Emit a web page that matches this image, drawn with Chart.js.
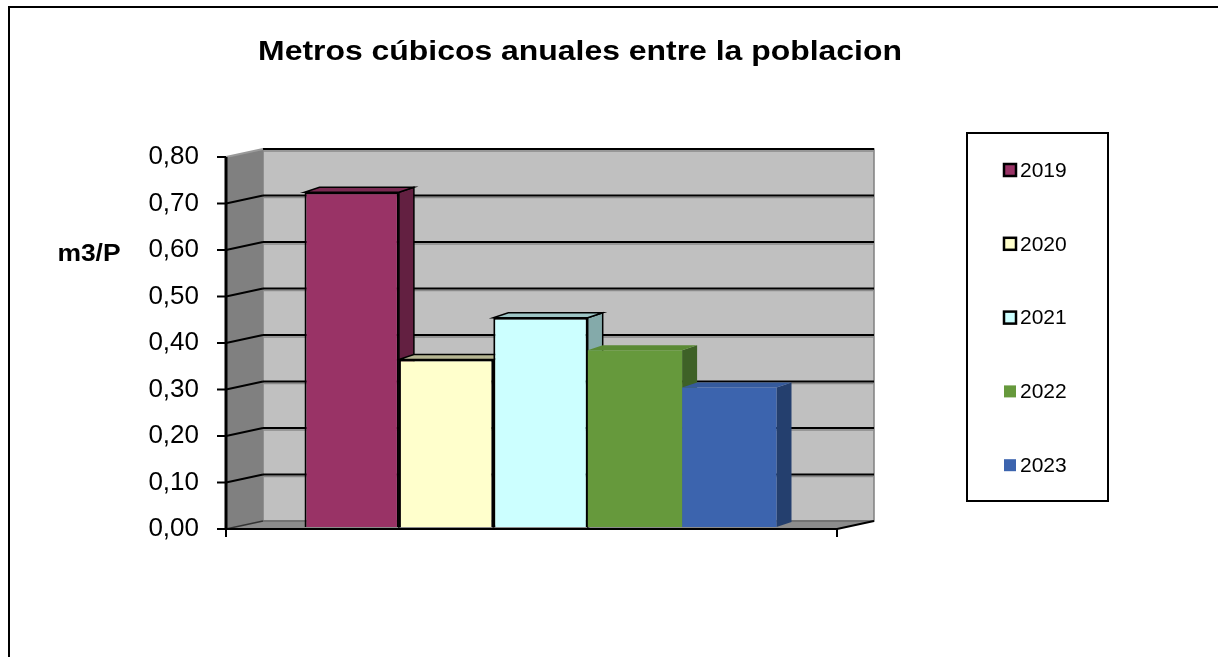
<!DOCTYPE html>
<html>
<head>
<meta charset="utf-8">
<script src="https://cdn.jsdelivr.net/npm/chart.js@4.4.0/dist/chart.umd.min.js"></script>
<style>
  body { margin: 0; background: #fff; }
  canvas { display: block; }
</style>
</head>
<body>
<canvas id="grafico" width="1218" height="657"></canvas>
<script>
// datos del grafico
var categoria = [''];
var anios = ['2019', '2020', '2021', '2022', '2023'];
var valores = [0.72, 0.36, 0.45, 0.38, 0.30];
var etiquetasY = ['0,00', '0,10', '0,20', '0,30', '0,40', '0,50', '0,60', '0,70', '0,80'];
var titulo = 'Metros cúbicos anuales entre la poblacion';
var tituloEje = 'm3/P';

// colores (frente, lado, techo) y borde
var colorFrente = ['#993366', '#FFFFCC', '#CCFFFF', '#66993C', '#3C64AE'];
var colorLado = ['#632041', '#A8A884', '#84AAAA', '#3E6127', '#243F6E'];
var colorTecho = ['#7A2A52', '#B5B592', '#9CC4C4', '#5A8A35', '#355A9C'];
var conBorde = [true, true, true, false, false];

var FUENTE = '"Liberation Sans", Arial, sans-serif';
var DX = 37, DY = -8;      // profundidad de las paredes
var BX = 15, BY = -5;      // profundidad de las barras
var OX = 9, OY = -2;       // posicion de las barras dentro del piso

var textoEstirado = function(ctx, txt, x, y, fuente, esc){
  ctx.save();
  ctx.font = fuente;
  ctx.fillStyle = '#000';
  ctx.textAlign = 'center';
  ctx.textBaseline = 'middle';
  ctx.translate(x, y);
  ctx.scale(esc, 1);
  ctx.fillText(txt, 0, 0);
  ctx.restore();
};

var poligono = function(ctx, pts, relleno, trazo, ancho){
  ctx.beginPath();
  ctx.moveTo(pts[0][0], pts[0][1]);
  for (var i = 1; i < pts.length; i++) ctx.lineTo(pts[i][0], pts[i][1]);
  ctx.closePath();
  if (relleno) { ctx.fillStyle = relleno; ctx.fill(); }
  if (trazo) { ctx.strokeStyle = trazo; ctx.lineWidth = ancho || 1; ctx.stroke(); }
};

var linea = function(ctx, x1, y1, x2, y2, color, ancho){
  ctx.beginPath();
  ctx.moveTo(x1, y1);
  ctx.lineTo(x2, y2);
  ctx.strokeStyle = color;
  ctx.lineWidth = ancho;
  ctx.stroke();
};

//--------------------------------------------------------------------------------------
// efecto 3D estilo excel: paredes, piso, grilla y caras de las barras
//--------------------------------------------------------------------------------------
var efecto3d = {
  id: 'efecto3d',
  beforeDraw: function(chart){
    var ctx = chart.ctx;
    var a = chart.chartArea;
    var ys = chart.scales.y;
    var L = a.left, R = a.right, T = a.top, B = a.bottom;

    ctx.save();
    ctx.fillStyle = '#fff';
    ctx.fillRect(0, 0, chart.width, chart.height);

    // marco
    ctx.fillStyle = '#000';
    ctx.fillRect(8, 6, chart.width - 8, 2);
    ctx.fillRect(8, 6, 2, chart.height - 6);

    // pared del fondo
    poligono(ctx, [[L + DX, T + DY], [R + DX, T + DY], [R + DX, B + DY], [L + DX, B + DY]], '#C0C0C0', '#808080', 1.5);
    // pared lateral
    poligono(ctx, [[L, T], [L + DX, T + DY], [L + DX, B + DY], [L, B]], '#808080');
    // piso
    poligono(ctx, [[L, B], [R, B], [R + DX, B + DY], [L + DX, B + DY]], '#8C8C8C');
    linea(ctx, L + DX, B + DY, R + DX, B + DY, '#6A6A6A', 1.5);
    linea(ctx, L, B, L + DX, B + DY, '#333', 1.5);
    linea(ctx, R, B, R + DX, B + DY, '#000', 2);

    // lineas de grilla
    ys.ticks.forEach(function(t){
      if (t.value <= 0) return;
      var y = ys.getPixelForValue(t.value);
      var ultima = t.value >= ys.max - 1e-9;
      linea(ctx, L + DX, y + DY + 2, R + DX, y + DY + 2, '#8a8a8a', 1.5);
      linea(ctx, L + DX, y + DY, R + DX, y + DY, '#000', 2.2);
      linea(ctx, L, y, L + DX, y + DY, ultima ? '#9a9a9a' : '#000', 2);
    });

    // eje vertical y marcas
    linea(ctx, L, T, L, B + 1, '#000', 3);
    ys.ticks.forEach(function(t){
      var y = ys.getPixelForValue(t.value);
      linea(ctx, L - 9, y, L, y, '#000', 2);
    });
    // eje horizontal
    linea(ctx, L, B, R, B, '#000', 2);
    linea(ctx, L, B, L, B + 8, '#000', 2);
    linea(ctx, R, B, R, B + 8, '#000', 2);
    ctx.restore();
  },
  beforeDatasetsDraw: function(chart){
    var ctx = chart.ctx;
    ctx.save();
    ctx.translate(OX, OY);
    chart.data.datasets.forEach(function(ds, i){
      var el = chart.getDatasetMeta(i).data[0];
      if (!el) return;
      var l = el.x - el.width / 2, r = el.x + el.width / 2;
      var t = el.y, b = el.base;
      var trazo = conBorde[i] ? '#000' : null;
      poligono(ctx, [[r, t], [r + BX, t + BY], [r + BX, b + BY], [r, b]], colorLado[i], trazo, 1.5);
      poligono(ctx, [[l, t], [r, t], [r + BX, t + BY], [l + BX, t + BY]], colorTecho[i], trazo, 1.5);
    });
  },
  afterDatasetsDraw: function(chart){
    chart.ctx.restore();
  },
  afterDraw: function(chart){
    var ctx = chart.ctx;
    textoEstirado(ctx, titulo, 580, 52, 'bold 28px ' + FUENTE, 1.14);
    textoEstirado(ctx, tituloEje, 89, 255, 'bold 23px ' + FUENTE, 1.15);

    // leyenda
    ctx.save();
    ctx.strokeStyle = '#000';
    ctx.lineWidth = 2;
    ctx.strokeRect(967, 133, 141, 368);
    ctx.font = '21px ' + FUENTE;
    ctx.textBaseline = 'middle';
    ctx.textAlign = 'left';
    chart.data.datasets.forEach(function(ds, i){
      var y = 170 + i * 73.8;
      ctx.fillStyle = colorFrente[i];
      ctx.fillRect(1004, y - 6, 12, 12);
      if (conBorde[i]) {
        ctx.lineWidth = 2.5;
        ctx.strokeRect(1004, y - 6, 12, 12);
      }
      ctx.fillStyle = '#000';
      ctx.fillText(ds.label, 1020, y + 1);
    });
    ctx.restore();
  }
};

var ctx = document.getElementById('grafico').getContext('2d');
var grafico = new Chart(ctx, {
  type: 'bar',
  data: {
    labels: categoria,
    datasets: anios.map(function(anio, i){
      return {
        label: anio,
        data: [valores[i]],
        backgroundColor: colorFrente[i],
        borderColor: '#000',
        borderWidth: conBorde[i] ? 2 : 0,
        categoryPercentage: 0.7725,
        barPercentage: 1
      };
    })
  },
  options: {
    responsive: false,
    animation: false,
    layout: { padding: { left: 0, top: 157, right: 381, bottom: 128 } },
    plugins: {
      legend: { display: false },
      title: { display: false },
      tooltip: { enabled: false }
    },
    scales: {
      x: { display: false },
      y: {
        min: 0,
        max: 0.8,
        afterFit: function(s){ s.width = 226; },
        grid: { display: false },
        border: { display: false },
        ticks: {
          stepSize: 0.1,
          padding: 19,
          color: '#000',
          font: { family: FUENTE, size: 26 },
          callback: function(v, i){ return etiquetasY[i]; }
        }
      }
    }
  },
  plugins: [efecto3d]
});
</script>
</body>
</html>
